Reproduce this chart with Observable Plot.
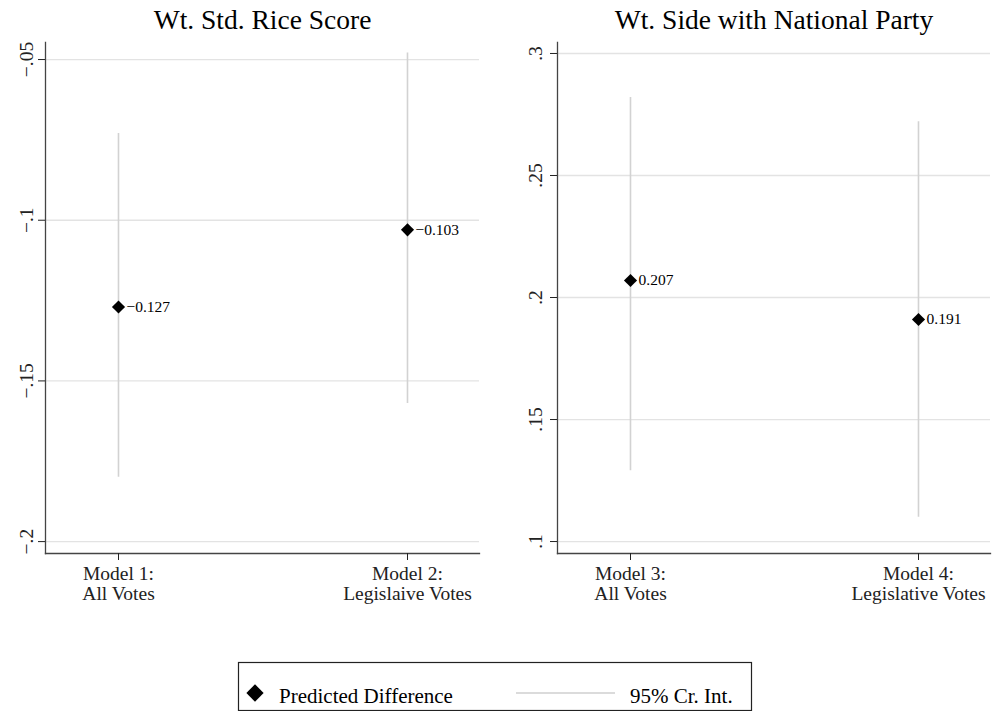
<!DOCTYPE html>
<html><head><meta charset="utf-8">
<script src="https://cdn.jsdelivr.net/npm/d3@7"></script>
<script src="https://cdn.jsdelivr.net/npm/@observablehq/plot@0.6"></script>
<style>
body{margin:0;background:#fff;}
#fig{position:relative;width:992px;height:711px;overflow:hidden;background:#fff;font-family:"Liberation Serif","Times New Roman",serif;}
#fig svg{position:absolute;top:0;}
</style></head><body><div id="fig"></div>
<script>
const titles = ["Wt. Std. Rice Score", "Wt. Side with National Party"];
const modelsL = ["Model 1:\nAll Votes", "Model 2:\nLegislaive Votes"];
const estL = [-0.127, -0.103];
const loL = [-0.180, -0.157];
const hiL = [-0.073, -0.048];
const ticksL = [-0.2, -0.15, -0.1, -0.05];
const modelsR = ["Model 3:\nAll Votes", "Model 4:\nLegislative Votes"];
const estR = [0.207, 0.191];
const loR = [0.129, 0.110];
const hiR = [0.282, 0.272];
const ticksR = [0.1, 0.15, 0.2, 0.25, 0.3];
const legendLabels = ["Predicted Difference", "95% Cr. Int."];

const fmtTick = d => (d < 0 ? "\u2212" : "") + String(Math.abs(d)).replace(/^0/, "");
const fmtVal = d3.format(".3f");
const FONT = "Liberation Serif, Times New Roman, serif";

function panel(title, models, est, lo, hi, ticks, domain, ml, mr, pad) {
  const data = models.map((m, i) => ({model: m, est: est[i], lo: lo[i], hi: hi[i]}));
  return Plot.plot({
    width: 496, height: 620,
    marginTop: 42, marginBottom: 67, marginLeft: ml, marginRight: mr,
    style: {fontFamily: FONT, background: "transparent", color: "#222"},
    x: {type: "point", domain: models, padding: 0.25},
    y: {domain},
    marks: [
      Plot.gridY(ticks, {stroke: "#e3e3e3", strokeOpacity: 1, strokeWidth: 1.3}),
      Plot.ruleX(data, {x: "model", y1: "lo", y2: "hi", stroke: "#d2d2d2", strokeWidth: 1.6}),
      Plot.frame({anchor: "left", stroke: "#444", strokeWidth: 1.3}),
      Plot.frame({anchor: "bottom", stroke: "#444", strokeWidth: 1.3}),
      Plot.axisY(ticks, {tickSize: 7, tickPadding: pad, tickRotate: -90, tickFormat: fmtTick, fontSize: 19.5}),
      Plot.axisX({tickSize: 7, tickPadding: 6, fontSize: 19.5, lineHeight: 1, label: null}),
      Plot.dot(data, {x: "model", y: "est", symbol: "diamond2", r: 5.9, fill: "#000", stroke: null}),
      Plot.text(data, {x: "model", y: "est", text: d => fmtVal(d.est), textAnchor: "start", dx: 8, fontSize: 15.5, fill: "#000"}),
      Plot.text([title], {frameAnchor: "top", lineAnchor: "bottom", dy: -14, fontSize: 27.5, fill: "#000"})
    ]
  });
}

const fig = document.getElementById("fig");
const left = panel(titles[0], modelsL, estL, loL, hiL, ticksL, [-0.2037, -0.0447], 45, 17, 6);
left.style.left = "0px";
fig.appendChild(left);
const right = panel(titles[1], modelsR, estR, loR, hiR, ticksR, [0.0951, 0.3045], 61, 2, 9);
right.style.left = "496px";
fig.appendChild(right);

// legend
const lg = d3.create("svg").attr("width", 530).attr("height", 61)
  .style("left", "230px").style("top", "650px").style("font-family", FONT);
lg.append("rect").attr("x", 8.5).attr("y", 12.5).attr("width", 513).attr("height", 48)
  .attr("fill", "#fff").attr("stroke", "#222").attr("stroke-width", 1.2);
lg.append("path").attr("d", d3.symbol(d3.symbolDiamond2, 190)()).attr("transform", "translate(25,43)").attr("fill", "#000");
lg.append("text").attr("x", 49).attr("y", 53).attr("font-size", 21).text(legendLabels[0]);
lg.append("line").attr("x1", 286).attr("x2", 385).attr("y1", 43).attr("y2", 43).attr("stroke", "#cfcfcf").attr("stroke-width", 1.6);
lg.append("text").attr("x", 400).attr("y", 53).attr("font-size", 21).text(legendLabels[1]);
fig.appendChild(lg.node());
</script></body></html>
